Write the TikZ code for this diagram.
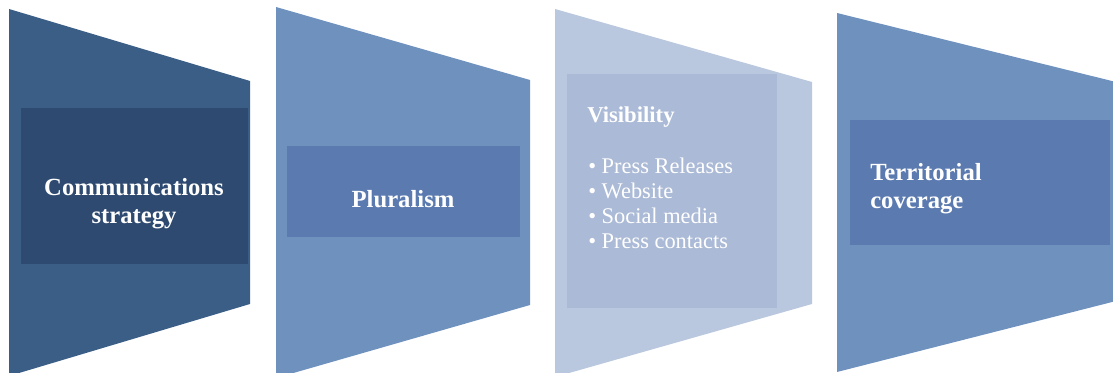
\documentclass[tikz,border=0pt]{standalone}
\usepackage{fontspec}
\setmainfont{Liberation Serif}
\usetikzlibrary{positioning}

\definecolor{deepband}{HTML}{3B5E87}
\definecolor{deeppanel}{HTML}{2E4A70}
\definecolor{midband}{HTML}{6E91BE}
\definecolor{midpanel}{HTML}{5B7AAF}
\definecolor{paleband}{HTML}{B9C8DE}
\definecolor{palepanel}{HTML}{ABBAD6}

\tikzset{
title/.style={text=white, inner sep=0pt, align=center,
    font=\bfseries\fontsize{18.5}{21}\selectfont},
item/.style={text=white, inner sep=0pt, anchor=west,
    font=\fontsize{16.8}{19}\selectfont}}

\begin{document}
\begin{tikzpicture}[x=0.75pt,y=-0.75pt]
            
                \clip (0,0) rectangle (1113,373);
            
                % funnels
                \fill[deepband] (9,9) -- (250,81) -- (250,304) -- (9,376) -- cycle;
                \fill[midband] (276,7) -- (530,80) -- (530,305) -- (276,378) -- cycle;
                \fill[paleband] (555,9) -- (812,82) -- (812,304) -- (555,377) -- cycle;
                \fill[midband] (837,13) -- (1120,83) -- (1120,300) -- (837,372) -- cycle;
            
                % panels
                \fill[deeppanel] (21,108) rectangle (248,264);
                \fill[midpanel] (287,146) rectangle (520,237);
                \fill[palepanel] (567,74) rectangle (777,308);
                \fill[midpanel] (850,120) rectangle (1110,245);
            
                \node[title] (comm) at (134,204) {Communications\\strategy};
                \node[title] (plural) at (403,199) {Pluralism};
                \node[title, anchor=west, font=\bfseries\fontsize{17}{20}\selectfont] (visib) at (587,117) {Visibility};
                \node[item] (press) at (588,166) {\textbullet\ Press Releases};
                \node[item] (web) at (588,191) {\textbullet\ Website};
                \node[item] (social) at (588,216) {\textbullet\ Social media};
                \node[item] (contacts) at (588,241) {\textbullet\ Press contacts};
                \node[title, anchor=west, align=left] (territ) at (870,189) {Territorial\\coverage};
        
            \end{tikzpicture}
\end{document}
